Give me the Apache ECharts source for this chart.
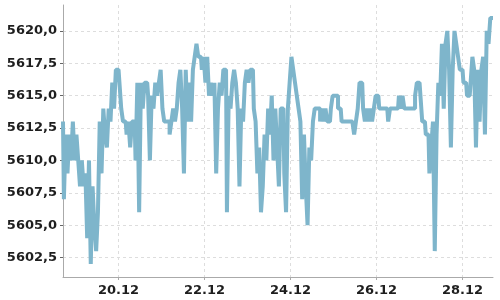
<!DOCTYPE html>
<html><head><meta charset="utf-8">
<script src="https://cdn.jsdelivr.net/npm/echarts@6/dist/echarts.min.js"></script>
<style>html,body{margin:0;padding:0;background:#fff}#c{width:500px;height:300px}</style>
</head><body><div id="c"></div>
<script>
// hourly samples, December; each array starts at the given hour
const dec18 = [5613,5607,5612,5609,5612,5610,5613]; // from 17:00
const dec19 = [5610,5612,5610,5608,5610,5608,5609,5604,5610,5602,5608,5605,5603,5606,5613,5609,5614,5612,5611,5614,5613,5616,5614,5617];
const dec20 = [5617,5616,5614,5613,5613,5612,5613,5611,5613,5613,5610,5616,5606,5616,5614,5616,5616,5615,5610,5615,5614,5616,5615,5616];
const dec21 = [5617,5614,5613,5613,5613,5612,5613,5614,5613,5614,5616,5617,5614,5609,5617,5613,5616,5613,5617,5618,5619,5618,5618,5617];
const dec22 = [5618,5616,5618,5615,5616,5615,5616,5609,5614,5616,5615,5617,5617,5606,5615,5614,5616,5617,5616,5614,5608,5614,5613,5616];
const dec23 = [5617,5616,5617,5617,5614,5613,5609,5611,5606,5608,5612,5610,5614,5612,5615,5610,5614,5611,5608,5614,5614,5609,5606,5614];
const dec24 = [5616,5618,5617,5616,5615,5614,5613,5607,5612,5608,5605,5611,5610,5613,5614,5614,5614,5613,5614,5613,5614,5613,5613,5614];
const dec25 = [5615,5615,5615,5614,5614,5613,5613,5613,5613,5613,5613,5613,5612,5613,5614,5616,5616,5614,5613,5614,5613,5614,5613,5614];
const dec26 = [5615,5615,5614,5614,5614,5614,5614,5613,5614,5614,5614,5614,5614,5615,5614,5615,5614,5614,5614,5614,5614,5614,5615,5616];
const dec27 = [5616,5615,5613,5613,5612,5612,5609,5611,5613,5603,5612,5616,5615,5619,5614,5619,5620,5617,5611,5617,5620,5619,5618,5617];
const dec28 = [5617,5616,5616,5615,5615,5616,5618,5617,5611,5617,5613,5617,5618,5612,5620,5619,5621,5621]; // to 17:00

const days = [
  {day: 18, firstHour: 17, values: dec18},
  {day: 19, firstHour: 0, values: dec19},
  {day: 20, firstHour: 0, values: dec20},
  {day: 21, firstHour: 0, values: dec21},
  {day: 22, firstHour: 0, values: dec22},
  {day: 23, firstHour: 0, values: dec23},
  {day: 24, firstHour: 0, values: dec24},
  {day: 25, firstHour: 0, values: dec25},
  {day: 26, firstHour: 0, values: dec26},
  {day: 27, firstHour: 0, values: dec27},
  {day: 28, firstHour: 0, values: dec28}
];
const xTickDays = [20, 22, 24, 26, 28];
const xTickLabels = ['20.12', '22.12', '24.12', '26.12', '28.12'];
const yTickValues = [5602.5, 5605, 5607.5, 5610, 5612.5, 5615, 5617.5, 5620];

const data = [];
days.forEach(d => d.values.forEach((v, k) => data.push([d.day + (d.firstHour + k) / 24, v])));

const labelFont = {fontFamily: 'DejaVu Sans', fontWeight: 'bold', fontSize: 13, color: '#1e1e1e'};
const gridLine = {show: true, lineStyle: {color: '#dddddd', type: [3, 3]}};
const chart = echarts.init(document.getElementById('c'), null, {renderer: 'canvas'});
chart.setOption({
  animation: false,
  grid: {left: 63, right: 7, top: 5, bottom: 23, containLabel: false},
  xAxis: {
    type: 'value', min: 18 + 17/24, max: 28 + 17/24,
    axisLine: {lineStyle: {color: '#aaaaaa'}},
    axisTick: {length: 3, customValues: xTickDays, lineStyle: {color: '#aaaaaa'}},
    axisLabel: Object.assign({margin: 7, customValues: xTickDays,
      formatter: v => xTickLabels[xTickDays.indexOf(Math.round(v))] || ''}, labelFont),
    splitLine: gridLine
  },
  yAxis: {
    type: 'value', min: 5601, max: 5622,
    axisLine: {show: true, lineStyle: {color: '#aaaaaa'}},
    axisTick: {show: true, length: 3, customValues: yTickValues, lineStyle: {color: '#666666'}},
    axisLabel: Object.assign({margin: 6, customValues: yTickValues,
      formatter: v => v.toFixed(1).replace('.', ',')}, labelFont),
    splitLine: gridLine
  },
  series: [{
    type: 'line', data: data, showSymbol: false, symbol: 'none', step: 'middle',
    lineStyle: {color: '#7eb5cb', width: 4},
    itemStyle: {color: '#7eb5cb'}
  }]
});
</script>
</body></html>
